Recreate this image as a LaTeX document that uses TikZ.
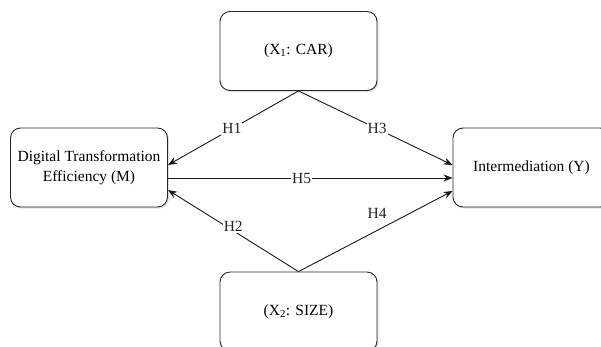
\documentclass[tikz,border=0pt]{standalone}
\usepackage{fontspec}
\setmainfont{Liberation Serif}
\usepackage{tikz}
\usepackage{xcolor}
\usetikzlibrary{arrows.meta,shadows}
\tikzset{
    rounded-box/.style = {draw=black!85, fill=white, line width=0.9pt, rectangle, rounded corners=10pt, inner sep=0pt, align=center, minimum width=157pt, minimum height=79pt, drop shadow={opacity=0.25, shadow xshift=1.5pt, shadow yshift=-1.5pt}},
    hyp-arrow/.style = {draw=black!90, line width=0.9pt, -{Stealth[length=9pt, width=7pt]}},
    hyp-label/.style = {fill=white, inner sep=1pt, text=black!85},
}

\begin{document}
\begin{tikzpicture}[x=1pt, y=-1pt, font=\fontsize{15.5}{20}\selectfont]
\useasboundingbox (0,0) rectangle (601,346);
\clip (0,0) rectangle (601,346);
\node [rounded-box] (car) at (298.5,51) {(X\textsubscript{1}: CAR)};
\node [rounded-box] (size) at (298.5,311.5) {(X\textsubscript{2}: SIZE)};
\node [rounded-box] (dte) at (89,167.5) {Digital Transformation\\Efficiency (M)};
\node [rounded-box] (inter) at (531.5,167.5) {Intermediation (Y)};
\draw[hyp-arrow] (car.south) -- node[hyp-label, pos=0.51] {H1} ([yshift=2.5pt]dte.east);
\draw[hyp-arrow] (car.south) -- node[hyp-label, pos=0.51] {H3} ([yshift=2.5pt]inter.west);
\draw[hyp-arrow] ([yshift=-10.5pt]dte.east) -- node[hyp-label, pos=0.47] {H5} ([yshift=-10.5pt]inter.west);
\draw[hyp-arrow] (size.north) -- node[hyp-label, pos=0.5, yshift=4pt] {H2} ([yshift=-22.5pt]dte.east);
\draw[hyp-arrow] (size.north) -- node[pos=0.51, yshift=17pt, text=black!85] {H4} ([yshift=-23.5pt]inter.west);
\end{tikzpicture}
\end{document}
